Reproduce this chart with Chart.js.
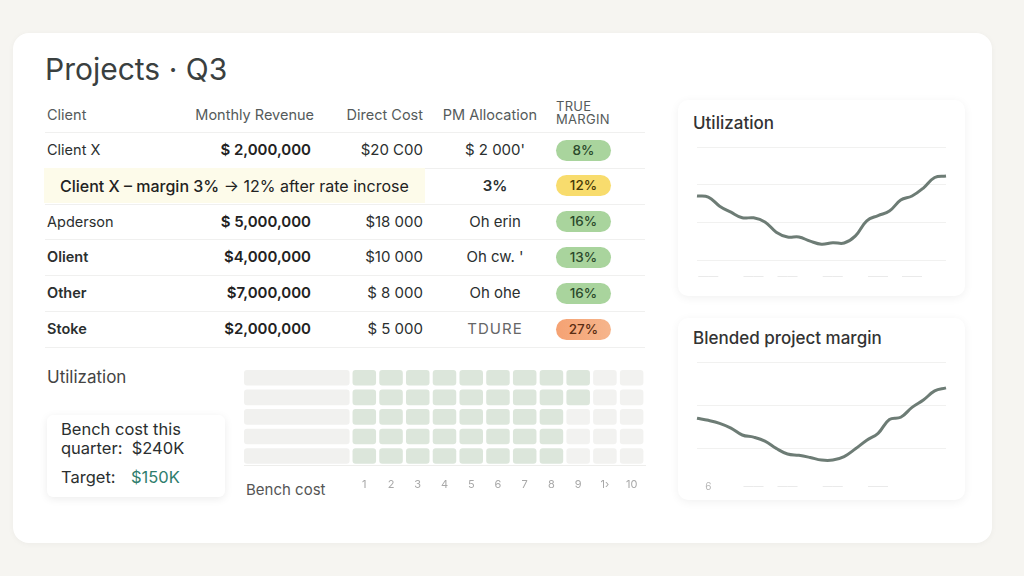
<!DOCTYPE html>
<html>
<head>
<meta charset="utf-8">
<script src="https://cdn.jsdelivr.net/npm/chart.js@4.4.1/dist/chart.umd.min.js"></script>
<style>
  html, body { margin: 0; padding: 0; }
  body {
    width: 1024px; height: 576px; overflow: hidden; position: relative;
    background: #f6f5f1; font-family: Inter, "Noto Sans", sans-serif; color: #2b2f2f;
  }
  .abs { position: absolute; white-space: nowrap; }
  .card {
    position: absolute; left: 13px; top: 33px; width: 979px; height: 510px;
    background: #fff; border-radius: 16px; box-shadow: 0 1px 6px rgba(0,0,0,0.04);
  }
  .title { left: 45px; top: 52px; font-size: 30px; line-height: 34px; color: #3a4040; }
  .th { top: 106px; font-size: 14.5px; line-height: 18px; color: #555b5b; }
  .sep { position: absolute; left: 45px; width: 600px; height: 1px; background: #f0f0ef; }
  .cell { font-size: 15px; line-height: 20px; height: 20px; }
  .pill {
    position: absolute; left: 556px; width: 55px; height: 21px; border-radius: 11px;
    font-size: 13.5px; line-height: 21px; text-align: center; font-weight: 500;
  }
  .panel {
    position: absolute; background: #fff; border-radius: 10px;
    box-shadow: 0 2px 10px rgba(0,0,0,0.06);
  }
  .panel-title { font-size: 17px; line-height: 20px; color: #333; font-weight: 500; }
  .wrap { position: absolute; }
</style>
</head>
<body>
<div class="card"></div>
<div class="abs title">Projects · Q3</div>

<div class="abs th" style="left:47px">Client</div>
<div class="abs th" style="right:710px">Monthly Revenue</div>
<div class="abs th" style="right:601px">Direct Cost</div>
<div class="abs th" style="right:487px">PM Allocation</div>
<div class="abs" style="left:556px;top:100px;font-size:13px;line-height:13px;color:#555b5b;letter-spacing:0.3px">TRUE<br>MARGIN</div>

<div id="table"></div>

<div class="abs" style="left:47px;top:367px;font-size:17px;line-height:20px;color:#444">Utilization</div>
<div class="panel" style="left:47px;top:415px;width:178px;height:82px;border-radius:6px;box-shadow:0 2px 8px rgba(0,0,0,0.08)"></div>
<div class="abs" style="left:61px;top:420px;font-size:16.5px;line-height:19px;color:#2b2f2f">Bench cost this<br>quarter:&nbsp; $240K</div>
<div class="abs" style="left:61px;top:467px;font-size:16.5px;line-height:20px;color:#2b2f2f">Target:</div>
<div class="abs" style="left:131px;top:467px;font-size:16.5px;line-height:20px;color:#2f7d6d">$150K</div>
<div class="abs" style="left:246px;top:481px;font-size:15px;line-height:18px;color:#555">Bench cost</div>

<div class="wrap" style="left:236px;top:360px;width:420px;height:147px"><canvas id="benchChart"></canvas></div>

<div class="panel" style="left:678px;top:100px;width:287px;height:196px"></div>
<div class="abs panel-title" style="left:693px;top:113px">Utilization</div>
<div class="wrap" style="left:686px;top:138px;width:272px;height:161px"><canvas id="utilChart"></canvas></div>

<div class="panel" style="left:678px;top:318px;width:287px;height:182px"></div>
<div class="abs panel-title" style="left:693px;top:328px">Blended project margin</div>
<div class="wrap" style="left:686px;top:355px;width:272px;height:153px"><canvas id="marginChart"></canvas></div>

<script>
// 表格数据
const clients = ['Client X', '', 'Apderson', 'Olient', 'Other', 'Stoke'];
const revenue = ['$ 2,000,000', '', '$ 5,000,000', '$4,000,000', '$7,000,000', '$2,000,000'];
const directCost = ['$20 C00', '', '$18 000', '$10 000', '$ 8 000', '$ 5 000'];
const pmAlloc = ["$ 2 000'", '3%', 'Oh erin', "Oh cw. '", 'Oh ohe', 'TDURE'];
const trueMargin = [8, 12, 16, 13, 16, 27];
const marginBand = ['ok', 'watch', 'ok', 'ok', 'ok', 'high'];
const noteText = ['Client X – margin 3%', ' → 12% after rate incrose'];

// 利用率趋势
const weekLabels = ['W1', 'W2', 'W3', 'W4', 'W5', 'W6', 'W7', 'W8', 'W9', 'W10', 'W11', 'W12',
    'W13', 'W14', 'W15', 'W16', 'W17', 'W18', 'W19', 'W20', 'W21', 'W22', 'W23'];
const utilization = [77.0, 76.7, 74.3, 72.7, 71.2, 71.2, 70.1, 67.4, 66.1, 66.1, 65.0, 64.2,
    64.6, 64.5, 66.4, 70.4, 71.8, 73.0, 75.9, 77.0, 79.1, 81.9, 82.3];
const utilGrid = [60, 70, 80, 90];
const utilTickAt = [1, 5, 8, 12, 16, 19];

// 综合项目利润率
const blendedMargin = [17.0, 16.5, 15.8, 14.7, 13.1, 12.6, 11.7, 10.0, 8.7, 8.4, 7.9, 7.3,
    7.3, 8.1, 9.9, 11.9, 13.5, 16.7, 17.2, 19.5, 21.2, 23.3, 24.0];
const marginGrid = [10, 20, 30];
const marginTickAt = [1, 5, 8, 12, 16];
const marginTickText = ['6', '——', '——', '——', '——'];

// 闲置成本热力图
const benchCols = ['1', '2', '3', '4', '5', '6', '7', '8', '9', '1›', '10'];
const benchRows = ['A', 'B', 'C', 'D', 'E'];
const benchBilled = [
    [1, 1, 1, 1, 1, 1, 1, 1, 1, 0, 0],
    [1, 1, 1, 1, 1, 1, 1, 1, 1, 0, 0],
    [1, 1, 1, 1, 1, 1, 1, 1, 0, 0, 0],
    [1, 1, 1, 1, 1, 1, 1, 1, 0, 0, 0],
    [1, 1, 1, 1, 1, 1, 1, 1, 0, 0, 0]
];

const pillColors = {
    ok: { bg: '#a9d49d', fg: '#2c4a2c' },
    watch: { bg: '#f8dc6d', fg: '#4a3b08' },
    high: { bg: 'linear-gradient(90deg,#f5a273,#f6b58c)', fg: '#5a2d12' }
};

/**
 * 渲染表格
 */
function renderTable() {
    const host = document.getElementById('table');
    let html = '';
    const rowH = 35.8;
    for (let i = 0; i <= clients.length; i++) {
        html += `<div class="sep" style="top:${Math.round(132 + i * rowH)}px"></div>`;
    }
    clients.forEach((name, i) => {
        const cy = 150 + i * rowH;
        const top = Math.round(cy - 10);
        if (i === 1) {
            html += `<div class="abs" style="left:44px;top:${Math.round(cy - 18)}px;width:381px;height:35px;background:#fdfbea"></div>`;
            html += `<div class="abs cell" style="left:60px;top:${top}px;font-size:16px;color:#222"><span style="font-weight:500">${noteText[0]}</span>${noteText[1]}</div>`;
        } else {
            const w = i >= 3 ? 600 : 400;
            html += `<div class="abs cell" style="left:47px;top:${top}px;font-size:14.5px;font-weight:${w};color:#2b2f2f">${name}</div>`;
            html += `<div class="abs cell" style="right:713px;top:${top}px;font-weight:600;color:#222">${revenue[i]}</div>`;
            html += `<div class="abs cell" style="right:601px;top:${top}px;color:#2b2f2f">${directCost[i]}</div>`;
        }
        const pmStyle = i === 1 ? 'font-weight:600' : (i === 5 ? 'color:#666;letter-spacing:1px' : '');
        html += `<div class="abs cell" style="left:445px;width:100px;text-align:center;top:${top}px;${pmStyle}">${pmAlloc[i]}</div>`;
        const c = pillColors[marginBand[i]];
        html += `<div class="pill" style="top:${Math.round(cy - 10.5)}px;background:${c.bg};color:${c.fg}">${trueMargin[i]}%</div>`;
    });
    host.innerHTML = html;
}

/**
 * 渲染趋势折线图
 */
function renderLine(canvasId, values, grid, min, max, tickAt, tickText, pad) {
    return new Chart(document.getElementById(canvasId), {
        type: 'line',
        data: {
            labels: weekLabels,
            datasets: [{
                data: values,
                borderColor: '#6d7c75',
                borderWidth: 3,
                tension: 0.4,
                pointRadius: 0,
                fill: false
            }]
        },
        options: {
            responsive: true,
            maintainAspectRatio: false,
            animation: false,
            layout: { padding: pad },
            plugins: { legend: { display: false }, tooltip: { enabled: false } },
            scales: {
                x: {
                    grid: { display: false, drawTicks: false },
                    border: { display: false },
                    ticks: {
                        autoSkip: false,
                        maxRotation: 0,
                        padding: 11,
                        font: { family: 'Inter', size: 10 },
                        color: (ctx) => (tickText && ctx.index === tickAt[0]) ? '#b5b5b5' : '#e6e6e6',
                        callback: function (value, index) {
                            const k = tickAt.indexOf(index);
                            if (k < 0) return '';
                            return tickText ? tickText[k] : '——';
                        }
                    }
                },
                y: {
                    min: min,
                    max: max,
                    afterBuildTicks: (axis) => { axis.ticks = grid.map(v => ({ value: v })); },
                    grid: { color: '#f1f1f0', drawTicks: false, lineWidth: 1 },
                    border: { display: false },
                    ticks: { display: false }
                }
            }
        }
    });
}

/**
 * 渲染闲置成本热力图
 */
function renderBench() {
    const datasets = [{
        data: benchRows.map(() => [0, 3.95]),
        backgroundColor: '#f1f1ef',
        borderRadius: 3,
        borderSkipped: false
    }];
    benchCols.forEach((col, c) => {
        datasets.push({
            data: benchRows.map(() => [c + 4.06, c + 4.94]),
            backgroundColor: benchBilled.map(row => row[c] ? '#dce6db' : '#f2f2f0'),
            borderRadius: 3,
            borderSkipped: false
        });
    });

    new Chart(document.getElementById('benchChart'), {
        type: 'bar',
        data: { labels: benchRows, datasets: datasets },
        options: {
            indexAxis: 'y',
            responsive: true,
            maintainAspectRatio: false,
            animation: false,
            layout: { padding: { left: 8, right: 11, top: 8, bottom: 4 } },
            datasets: { bar: { grouped: false, barPercentage: 0.8, categoryPercentage: 1 } },
            plugins: { legend: { display: false }, tooltip: { enabled: false } },
            scales: {
                x: {
                    min: 0,
                    max: 15,
                    afterBuildTicks: (axis) => { axis.ticks = benchCols.map((_, c) => ({ value: c + 4.5 })); },
                    grid: { display: false, drawTicks: false },
                    border: { display: true, color: '#eeeeec' },
                    ticks: {
                        autoSkip: false,
                        maxRotation: 0,
                        padding: 12,
                        color: '#a8a8a8',
                        font: { family: 'Inter', size: 11 },
                        callback: (value, index) => benchCols[index]
                    }
                },
                y: { display: false }
            }
        }
    });
}

renderTable();
renderBench();
renderLine('utilChart', utilization, utilGrid, 60, 90, utilTickAt, null, { left: 7, right: 12, top: 9, bottom: 5 });
renderLine('marginChart', blendedMargin, marginGrid, 5, 30, marginTickAt, marginTickText, { left: 7, right: 12, top: 7, bottom: 4 });
</script>
</body>
</html>
